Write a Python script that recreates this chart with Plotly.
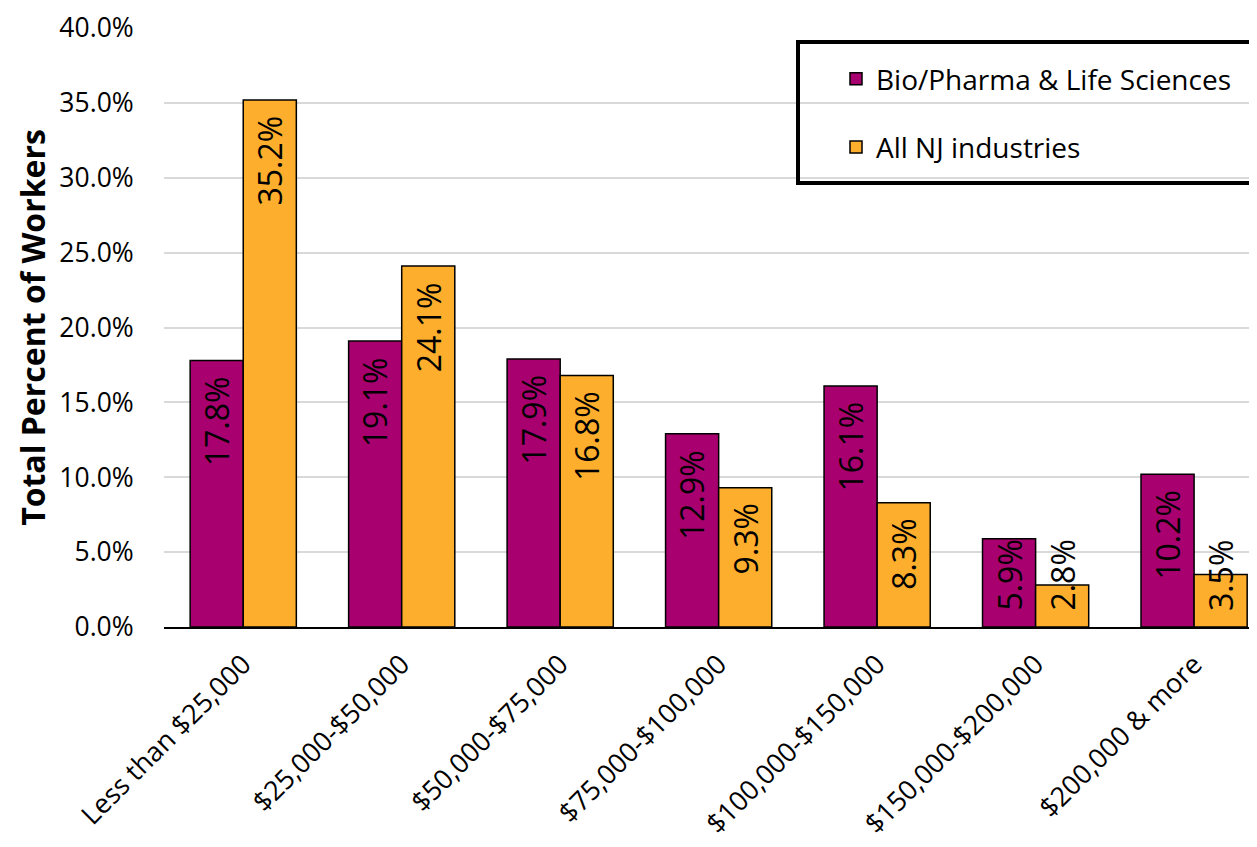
import plotly.graph_objects as go

categories = ["Less than $25,000", "$25,000-$50,000", "$50,000-$75,000",
              "$75,000-$100,000", "$100,000-$150,000", "$150,000-$200,000",
              "$200,000 & more"]
bio_pharma = [17.8, 19.1, 17.9, 12.9, 16.1, 5.9, 10.2]
all_nj = [35.2, 24.1, 16.8, 9.3, 8.3, 2.8, 3.5]
series_names = ["Bio/Pharma & Life Sciences", "All NJ industries"]
y_ticks = [0, 5, 10, 15, 20, 25, 30, 35, 40]

FONT = "Open Sans"
colors = ["#A8006F", "#FDAE2C"]

fig = go.Figure()
for name, vals, col, grp in zip(series_names, [bio_pharma, all_nj], colors, ["a", "b"]):
    fig.add_trace(go.Bar(
        x=categories, y=vals, name=name, legendgroup=grp,
        marker=dict(color=col, line=dict(color="#000000", width=1.5)),
    ))

# page offset (browser body margin)
OFF = 8
W, H = 1257 - OFF, 847 - OFF
ml, mr, mt, mb = 164 - OFF, 0, 28 - OFF, 220
pw, ph = W - ml - mr, H - mt - mb

def px_x(p):
    return (p - OFF - ml) / pw

def px_y(p):
    return (H - mb - (p - OFF)) / ph

# data labels (rotated, inside end; short bars pinned near the base)
bar_px = 53
annotations = []
for vals, shift in [(bio_pharma, -bar_px / 2), (all_nj, bar_px / 2)]:
    for c, v in zip(categories, vals):
        if v >= 7.5:
            annotations.append(dict(x=c, y=v, xref="x", yref="y", text=f"{v:.1f}%",
                                    textangle=-90, showarrow=False, xshift=shift,
                                    yanchor="top", yshift=-14,
                                    font=dict(family=FONT, size=32, color="#000")))
        else:
            annotations.append(dict(x=c, y=0, xref="x", yref="y", text=f"{v:.1f}%",
                                    textangle=-90, showarrow=False, xshift=shift,
                                    yanchor="bottom", yshift=14,
                                    font=dict(family=FONT, size=32, color="#000")))

fig.update_layout(
    width=W, height=H,
    margin=dict(l=ml, r=mr, t=mt, b=mb, autoexpand=False),
    paper_bgcolor="white", plot_bgcolor="white",
    barmode="group", bargap=0.33, bargroupgap=0,
    font=dict(family=FONT, size=28, color="#000"),
    xaxis=dict(type="category", range=[-0.5, 6.397], tickangle=-45,
               showline=True, linecolor="#000", linewidth=1.5,
               tickfont=dict(family=FONT, size=27, color="#000"),
               ticks="outside", ticklen=9, tickcolor="rgba(0,0,0,0)",
               showgrid=False),
    yaxis=dict(range=[0, 40], tickvals=y_ticks, ticktext=[f"{t:.1f}%" for t in y_ticks],
               showgrid=True, gridcolor="#D9D9D9", gridwidth=2,
               zeroline=False, showline=False, ticklabeloverflow="allow",
               ticks="outside", ticklen=24, tickcolor="rgba(0,0,0,0)",
               tickfont=dict(family=FONT, size=26.5, color="#000"),
               title=dict(text="<b>Total Percent of Workers</b>",
                          font=dict(family=FONT, size=32, color="#000"), standoff=4)),
    legend=dict(x=px_x(836), y=px_y(54), xanchor="left", yanchor="top",
                bgcolor="rgba(0,0,0,0)", borderwidth=0, tracegroupgap=29,
                font=dict(family=FONT, size=28, color="#000"),
                itemclick=False),
    annotations=annotations,
    shapes=[dict(type="rect", xref="paper", yref="paper",
                 x0=px_x(798), x1=px_x(1300), y0=px_y(183), y1=px_y(42),
                 line=dict(color="#000", width=4), fillcolor="rgba(0,0,0,0)",
                 layer="above")],
    showlegend=True,
)

fig.write_html("out.html")
